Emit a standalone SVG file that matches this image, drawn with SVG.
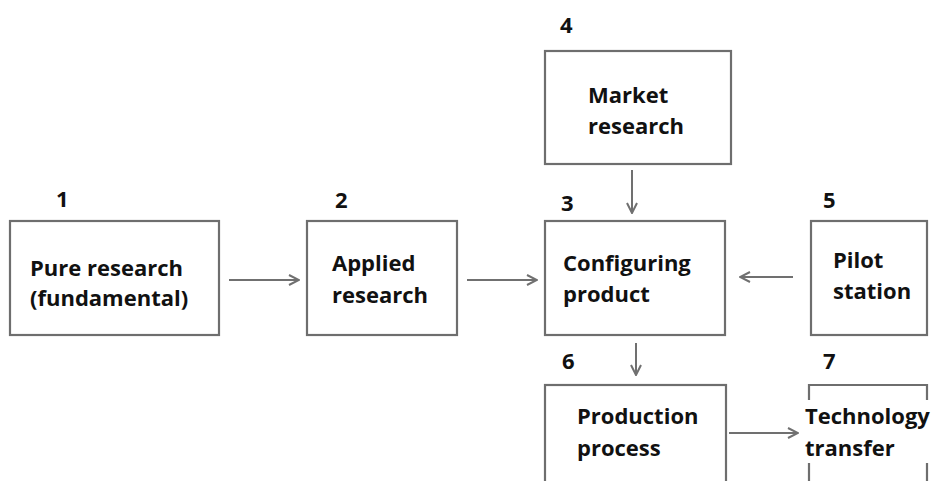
<svg xmlns="http://www.w3.org/2000/svg" width="937" height="481" viewBox="0 0 937 481">
<style>
.box{fill:#fff;stroke:#6e6e6e;stroke-width:2.2}
.t{font-family:"Open Sans","Noto Sans",sans-serif;font-weight:bold;font-size:22px;fill:#111}
.c{stroke:#707070;stroke-width:2;fill:none}
</style>
<defs>
<marker id="ah" viewBox="0 0 12 12" refX="11" refY="6" markerWidth="12" markerHeight="12" markerUnits="userSpaceOnUse" orient="auto">
<path d="M1,1 L11,6 L1,11" fill="none" stroke="#707070" stroke-width="2"/>
</marker>
</defs>
<rect width="937" height="481" fill="#fff"/>
<g id="n1">
<rect class="box" x="10" y="221" width="209" height="114"/>
<text class="t" x="56" y="207">1</text>
<text class="t" x="30" y="276">Pure research</text>
<text class="t" x="30" y="306">(fundamental)</text>
</g>
<g id="n2">
<rect class="box" x="307" y="221" width="150" height="114"/>
<text class="t" x="335" y="208">2</text>
<text class="t" x="332" y="271">Applied</text>
<text class="t" x="332" y="303">research</text>
</g>
<g id="n3">
<rect class="box" x="545" y="221" width="180" height="114"/>
<text class="t" x="561" y="211">3</text>
<text class="t" x="563" y="271">Configuring</text>
<text class="t" x="563" y="302">product</text>
</g>
<g id="n4">
<rect class="box" x="545" y="51" width="186" height="113"/>
<text class="t" x="560" y="33">4</text>
<text class="t" x="588" y="103">Market</text>
<text class="t" x="588" y="134">research</text>
</g>
<g id="n5">
<rect class="box" x="811" y="221" width="116" height="114"/>
<text class="t" x="823" y="208">5</text>
<text class="t" x="833" y="268">Pilot</text>
<text class="t" x="833" y="299">station</text>
</g>
<g id="n6">
<rect class="box" x="545" y="385" width="181" height="110"/>
<text class="t" x="562" y="369">6</text>
<text class="t" x="577" y="424">Production</text>
<text class="t" x="577" y="456">process</text>
</g>
<g id="n7">
<path class="box" fill="none" d="M809,400 V385 H927 V400 M809,463 V490 M927,463 V490"/>
<text class="t" x="823" y="369">7</text>
<text class="t" x="805" y="424">Technology</text>
<text class="t" x="805" y="456">transfer</text>
</g>
<g id="connectors">
<line class="c" x1="229" y1="280" x2="299" y2="280" marker-end="url(#ah)"/>
<line class="c" x1="467" y1="280" x2="537" y2="280" marker-end="url(#ah)"/>
<line class="c" x1="793" y1="277" x2="740" y2="277" marker-end="url(#ah)"/>
<line class="c" x1="632" y1="170" x2="632" y2="213" marker-end="url(#ah)"/>
<line class="c" x1="636" y1="343" x2="636" y2="375" marker-end="url(#ah)"/>
<line class="c" x1="729" y1="433" x2="798" y2="433" marker-end="url(#ah)"/>
</g>
</svg>
